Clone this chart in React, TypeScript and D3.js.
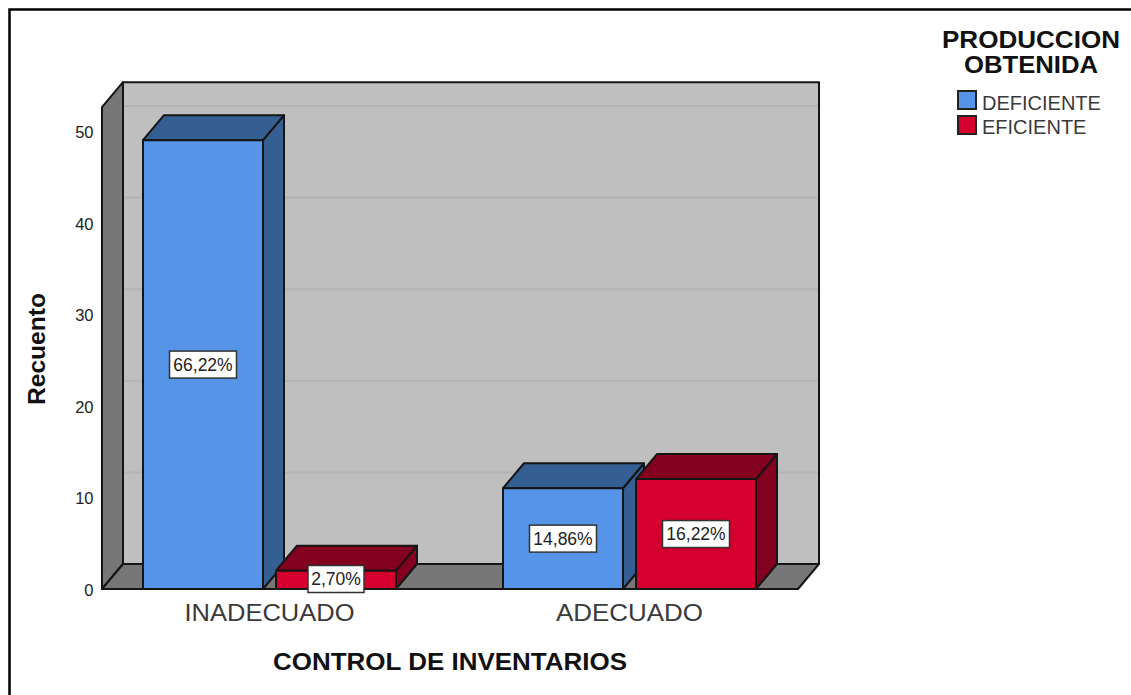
import { useEffect, useRef } from 'react';
import * as d3 from 'd3';

const categories = ['INADECUADO', 'ADECUADO'];
const seriesNames = ['DEFICIENTE', 'EFICIENTE'];
const deficiente = [49, 11];
const eficiente = [2, 12];
const percentLabels = [['66,22%', '14,86%'], ['2,70%', '16,22%']];
const yTicks = [0, 10, 20, 30, 40, 50];
const seriesValues = [deficiente, eficiente];
const frontColors = ['#5594e6', '#d6002f'];
const topColors = ['#355e92', '#84001f'];
const font = 'Arial, "Liberation Sans", sans-serif';

export default function App() {
  const svgRef = useRef<SVGSVGElement>(null);

  useEffect(() => {
    const svg = d3.select(svgRef.current);
    svg.selectAll('*').remove();

    const width = 1131;
    const height = 695;
    const depthX = 21;
    const depthY = -25;
    const left = 102;
    const right = 798;

    svg.attr('width', width).attr('height', height)
      .style('position', 'absolute').style('left', 0).style('top', 0);

    const y = d3.scaleLinear().domain([0, 50]).range([589, 131]);
    const yMax = 52.6;
    const x0 = d3.scaleBand().domain(categories).range([89.5, 809.5]);
    const x1 = d3.scaleBand().domain(seriesNames).range([53.5, 306.5]).paddingInner(0.0977);

    const poly = (pts: number[][], fill: string, sw = 2) =>
      svg.append('path')
        .attr('d', d3.line()(pts as [number, number][]) + 'Z')
        .attr('fill', fill)
        .attr('stroke', '#151515')
        .attr('stroke-width', sw)
        .attr('stroke-linejoin', 'round');

    // stretched text, the original labels are wider than Liberation Sans
    const label = (x: number, yy: number, t: string, size: number, len: number, bold = true, fill = '#111') =>
      svg.append('text')
        .attr('x', x).attr('y', yy)
        .attr('text-anchor', 'middle')
        .attr('textLength', len)
        .attr('lengthAdjust', 'spacingAndGlyphs')
        .style('font-family', font)
        .style('font-size', size + 'px')
        .style('font-weight', bold ? 'bold' : 'normal')
        .style('fill', fill)
        .text(t);

    // outer frame
    svg.append('path')
      .attr('d', d3.line()([[9.5, height], [9.5, 9.5], [width, 9.5]]))
      .attr('fill', 'none').attr('stroke', '#000').attr('stroke-width', 2.5);

    // walls
    const top = y(yMax);
    const bottom = y(0);
    poly([[left + depthX, top + depthY], [right + depthX, top + depthY], [right + depthX, bottom + depthY], [left + depthX, bottom + depthY]], '#bfbfbf');
    poly([[left, top], [left + depthX, top + depthY], [left + depthX, bottom + depthY], [left, bottom]], '#777777');
    poly([[left, bottom], [left + depthX, bottom + depthY], [right + depthX, bottom + depthY], [right, bottom]], '#777777');

    // grid on the back wall
    yTicks.filter(t => t > 0).forEach(t => {
      svg.append('line')
        .attr('x1', left + depthX + 1).attr('x2', right + depthX - 1)
        .attr('y1', y(t) + depthY).attr('y2', y(t) + depthY)
        .attr('stroke', '#b4b4b4').attr('stroke-width', 2);
    });

    // bars, back to front within each group
    categories.forEach((cat, c) => {
      seriesNames.forEach((name, s) => {
        const v = seriesValues[s][c];
        const xa = x0(cat)! + x1(name)!;
        const xb = xa + x1.bandwidth();
        const ya = y(v);
        const yb = y(0);
        poly([[xb, ya], [xb + depthX, ya + depthY], [xb + depthX, yb + depthY], [xb, yb]], topColors[s]);
        poly([[xa, ya], [xa + depthX, ya + depthY], [xb + depthX, ya + depthY], [xb, ya]], topColors[s]);
        poly([[xa, ya], [xb, ya], [xb, yb], [xa, yb]], frontColors[s]);
      });
    });

    // percentage labels
    categories.forEach((cat, c) => {
      seriesNames.forEach((name, s) => {
        const v = seriesValues[s][c];
        const cx = x0(cat)! + x1(name)! + x1.bandwidth() / 2;
        const cy = Math.min(y(v / 2), 579);
        const w = s === 1 && c === 0 ? 56 : 67;
        svg.append('rect')
          .attr('x', cx - w / 2).attr('y', cy - 13.5).attr('width', w).attr('height', 27)
          .attr('fill', '#fff').attr('stroke', '#333').attr('stroke-width', 1.5);
        svg.append('text')
          .attr('x', cx).attr('y', cy + 6)
          .attr('text-anchor', 'middle')
          .style('font-family', font).style('font-size', '17.5px').style('fill', '#222')
          .text(percentLabels[s][c]);
      });
    });

    // y tick labels
    yTicks.forEach(t => {
      svg.append('text')
        .attr('x', 93.5).attr('y', y(t) + 7)
        .attr('text-anchor', 'end')
        .style('font-family', font).style('font-size', '16.5px').style('fill', '#222')
        .text(t);
    });

    // category labels
    const catWidths = [170, 147];
    categories.forEach((cat, c) => {
      label(x0(cat)! + x0.bandwidth() / 2, 621, cat, 24.5, catWidths[c], false, '#3a3a3a');
    });

    label(450, 670, 'CONTROL DE INVENTARIOS', 23, 354);

    svg.append('text')
      .attr('transform', 'translate(45,349) rotate(-90)')
      .attr('text-anchor', 'middle')
      .attr('textLength', 112)
      .attr('lengthAdjust', 'spacingAndGlyphs')
      .style('font-family', font).style('font-size', '24px').style('font-weight', 'bold').style('fill', '#111')
      .text('Recuento');

    // legend
    label(1031, 48, 'PRODUCCION', 24, 178);
    label(1031, 72.5, 'OBTENIDA', 24, 134);
    seriesNames.forEach((name, s) => {
      svg.append('rect')
        .attr('x', 958).attr('y', 91 + s * 25).attr('width', 18).attr('height', 18)
        .attr('fill', frontColors[s]).attr('stroke', '#222').attr('stroke-width', 2);
      svg.append('text')
        .attr('x', 982).attr('y', 109.5 + s * 24.5)
        .style('font-family', font).style('font-size', '20px').style('fill', '#3a3a3a')
        .text(name);
    });
  }, []);

  return <svg ref={svgRef}></svg>;
}
